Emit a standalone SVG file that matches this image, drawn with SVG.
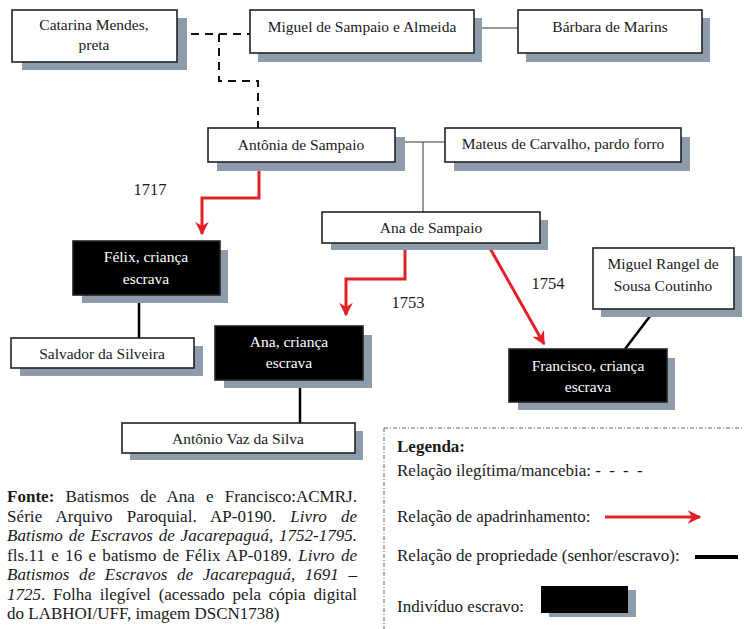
<svg xmlns="http://www.w3.org/2000/svg" width="744" height="629" viewBox="0 0 744 629">
  <defs>
    <marker id="redArrow" viewBox="0 0 10 10" refX="9" refY="5" markerWidth="4.5" markerHeight="4.5" orient="auto" markerUnits="strokeWidth">
      <path d="M0,0 L10,5 L0,10 L3,5 Z" fill="#e3202a"/>
    </marker>
  </defs>

  <rect width="744" height="629" fill="#ffffff"/>

  <!-- connectors -->
  <g id="connectors" fill="none">
    <g stroke="#111111" stroke-width="2" stroke-dasharray="8 6">
      <path d="M177,34 H219 V81 H258 V128"/>
      <path d="M219,34 H250"/>
    </g>
    <g stroke="#333333" stroke-width="1">
      <path d="M474,28 H518"/>
      <path d="M395,142 H445 M423,142 V212"/>
    </g>
    <g stroke="#e3202a" stroke-width="3">
      <path d="M259,162 V198 H202 V234" marker-end="url(#redArrow)"/>
      <path d="M405,243 V279 H346 V315" marker-end="url(#redArrow)"/>
      <path d="M487,243 L544,344" marker-end="url(#redArrow)"/>
    </g>
    <g stroke="#000000" stroke-width="2.5">
      <path d="M139,295 V338"/>
      <path d="M300,380 V423"/>
      <path d="M657,307 L625,349"/>
    </g>
  </g>

  <!-- nodes: grey drop shadow, framed box, centred label -->
  <g id="catarina">
    <rect fill="#8e9bab" x="22" y="18" width="165" height="52"/>
    <rect fill="#ffffff" stroke="#222222" stroke-width="1.6" x="12" y="10" width="165" height="52"/>
    <text font-family="Liberation Serif" font-size="15.5" fill="#1a1a1a" text-anchor="middle" x="94" y="30">Catarina Mendes,</text>
    <text font-family="Liberation Serif" font-size="15.5" fill="#1a1a1a" text-anchor="middle" x="94" y="50">preta</text>
  </g>
  <g id="miguel-sampaio">
    <rect fill="#8e9bab" x="258" y="18" width="224" height="44"/>
    <rect fill="#ffffff" stroke="#222222" stroke-width="1.6" x="250" y="10" width="224" height="43"/>
    <text font-family="Liberation Serif" font-size="15.5" fill="#1a1a1a" text-anchor="middle" x="362" y="32">Miguel de Sampaio e Almeida</text>
  </g>
  <g id="barbara">
    <rect fill="#8e9bab" x="526" y="18" width="184" height="44"/>
    <rect fill="#ffffff" stroke="#222222" stroke-width="1.6" x="518" y="10" width="184" height="43"/>
    <text font-family="Liberation Serif" font-size="15.5" fill="#1a1a1a" text-anchor="middle" x="610" y="32">Bárbara de Marins</text>
  </g>
  <g id="antonia">
    <rect fill="#8e9bab" x="217" y="137" width="188" height="34"/>
    <rect fill="#ffffff" stroke="#222222" stroke-width="1.6" x="208" y="128" width="187" height="34"/>
    <text font-family="Liberation Serif" font-size="15.5" fill="#1a1a1a" text-anchor="middle" x="301" y="150">Antônia de Sampaio</text>
  </g>
  <g id="mateus">
    <rect fill="#8e9bab" x="454" y="137" width="236" height="34"/>
    <rect fill="#ffffff" stroke="#222222" stroke-width="1.6" x="445" y="128" width="236" height="34"/>
    <text font-family="Liberation Serif" font-size="15.5" fill="#1a1a1a" text-anchor="middle" x="563" y="149">Mateus de Carvalho, pardo forro</text>
  </g>
  <g id="ana-sampaio">
    <rect fill="#8e9bab" x="331" y="220" width="217" height="30"/>
    <rect fill="#ffffff" stroke="#222222" stroke-width="1.6" x="322" y="212" width="218" height="31"/>
    <text font-family="Liberation Serif" font-size="15.5" fill="#1a1a1a" text-anchor="middle" x="431" y="233">Ana de Sampaio</text>
  </g>
  <g id="felix">
    <rect fill="#8e9bab" x="82" y="250" width="146" height="53"/>
    <rect fill="#000000" stroke="#222222" stroke-width="1.6" x="73" y="241" width="147" height="54"/>
    <text font-family="Liberation Serif" font-size="15.5" fill="#ffffff" text-anchor="middle" x="146" y="262">Félix, criança</text>
    <text font-family="Liberation Serif" font-size="15.5" fill="#ffffff" text-anchor="middle" x="146" y="284">escrava</text>
  </g>
  <g id="salvador">
    <rect fill="#8e9bab" x="20" y="346" width="183" height="30"/>
    <rect fill="#ffffff" stroke="#222222" stroke-width="1.6" x="11" y="338" width="183" height="30"/>
    <text font-family="Liberation Serif" font-size="15.5" fill="#1a1a1a" text-anchor="middle" x="102" y="359">Salvador da Silveira</text>
  </g>
  <g id="ana-escrava">
    <rect fill="#8e9bab" x="224" y="335" width="148" height="53"/>
    <rect fill="#000000" stroke="#222222" stroke-width="1.6" x="215" y="326" width="148" height="54"/>
    <text font-family="Liberation Serif" font-size="15.5" fill="#ffffff" text-anchor="middle" x="289" y="347">Ana, criança</text>
    <text font-family="Liberation Serif" font-size="15.5" fill="#ffffff" text-anchor="middle" x="289" y="368">escrava</text>
  </g>
  <g id="antonio-vaz">
    <rect fill="#8e9bab" x="130" y="431" width="233" height="29"/>
    <rect fill="#ffffff" stroke="#222222" stroke-width="1.6" x="122" y="423" width="233" height="30"/>
    <text font-family="Liberation Serif" font-size="15.5" fill="#1a1a1a" text-anchor="middle" x="238" y="444">Antônio Vaz da Silva</text>
  </g>
  <g id="miguel-rangel">
    <rect fill="#8e9bab" x="601" y="256" width="141" height="61"/>
    <rect fill="#ffffff" stroke="#222222" stroke-width="1.6" x="593" y="248" width="141" height="61"/>
    <text font-family="Liberation Serif" font-size="15.5" fill="#1a1a1a" text-anchor="middle" x="663" y="269">Miguel Rangel de</text>
    <text font-family="Liberation Serif" font-size="15.5" fill="#1a1a1a" text-anchor="middle" x="663" y="291">Sousa Coutinho</text>
  </g>
  <g id="francisco">
    <rect fill="#8e9bab" x="518" y="358" width="157" height="52"/>
    <rect fill="#000000" stroke="#222222" stroke-width="1.6" x="509" y="349" width="158" height="53"/>
    <text font-family="Liberation Serif" font-size="15.5" fill="#ffffff" text-anchor="middle" x="588" y="371">Francisco, criança</text>
    <text font-family="Liberation Serif" font-size="15.5" fill="#ffffff" text-anchor="middle" x="588" y="392">escrava</text>
  </g>

  <!-- years of baptism -->
  <g id="years">
    <text font-family="Liberation Serif" font-size="16.5" fill="#1a1a1a" text-anchor="middle" x="150" y="195">1717</text>
    <text font-family="Liberation Serif" font-size="16.5" fill="#1a1a1a" text-anchor="middle" x="408" y="308">1753</text>
    <text font-family="Liberation Serif" font-size="16.5" fill="#1a1a1a" text-anchor="middle" x="548" y="289">1754</text>
  </g>

  <!-- source note, justified lines -->
  <g id="fonte">
    <text font-family="Liberation Serif" font-size="17" fill="#1a1a1a" x="7" y="502" word-spacing="6.9" textLength="350" lengthAdjust="spacing"><tspan font-weight="bold">Fonte:</tspan> Batismos de Ana e Francisco:ACMRJ.</text>
    <text font-family="Liberation Serif" font-size="17" fill="#1a1a1a" x="7" y="521.5" word-spacing="9.8" textLength="350" lengthAdjust="spacing">Série Arquivo Paroquial. AP-0190. <tspan font-style="italic">Livro de</tspan></text>
    <text font-family="Liberation Serif" font-size="17" fill="#1a1a1a" font-style="italic" x="7" y="541" word-spacing="1.5" textLength="350" lengthAdjust="spacing">Batismo de Escravos de Jacarepaguá, 1752-1795.</text>
    <text font-family="Liberation Serif" font-size="17" fill="#1a1a1a" x="7" y="560.5" word-spacing="2" textLength="350" lengthAdjust="spacing">fls.11 e 16 e batismo de Félix AP-0189. <tspan font-style="italic">Livro de</tspan></text>
    <text font-family="Liberation Serif" font-size="17" fill="#1a1a1a" font-style="italic" x="7" y="580" word-spacing="5.4" textLength="350" lengthAdjust="spacing">Batismos de Escravos de Jacarepaguá, 1691 –</text>
    <text font-family="Liberation Serif" font-size="17" fill="#1a1a1a" x="7" y="599.5" word-spacing="3.6" textLength="350" lengthAdjust="spacing"><tspan font-style="italic">1725</tspan>. Folha ilegível (acessado pela cópia digital</text>
    <text font-family="Liberation Serif" font-size="17" fill="#1a1a1a" x="7" y="619">do LABHOI/UFF, imagem DSCN1738)</text>
  </g>

  <!-- legend -->
  <g id="legenda">
    <path d="M384,428 H744 M384,428 V629" fill="none" stroke="#666666" stroke-width="1" stroke-dasharray="4 2 1 2"/>
    <text font-family="Liberation Serif" font-size="17" fill="#1a1a1a" font-weight="bold" x="397" y="452">Legenda:</text>
    <text font-family="Liberation Serif" font-size="17" fill="#1a1a1a" x="397" y="476">Relação ilegítima/mancebia: <tspan word-spacing="4">- - - -</tspan></text>
    <text font-family="Liberation Serif" font-size="17" fill="#1a1a1a" x="397" y="522">Relação de apadrinhamento:</text>
    <path d="M605,517 H700" fill="none" stroke="#e3202a" stroke-width="3" marker-end="url(#redArrow)"/>
    <text font-family="Liberation Serif" font-size="17" fill="#1a1a1a" x="397" y="561">Relação de propriedade (senhor/escravo):</text>
    <path d="M695,557 H738" fill="none" stroke="#000000" stroke-width="4"/>
    <text font-family="Liberation Serif" font-size="17" fill="#1a1a1a" x="397" y="612">Indivíduo escravo:</text>
    <rect fill="#8e9bab" x="549" y="590" width="87" height="27"/>
    <rect fill="#000000" x="541" y="586" width="87" height="27"/>
  </g>
</svg>
